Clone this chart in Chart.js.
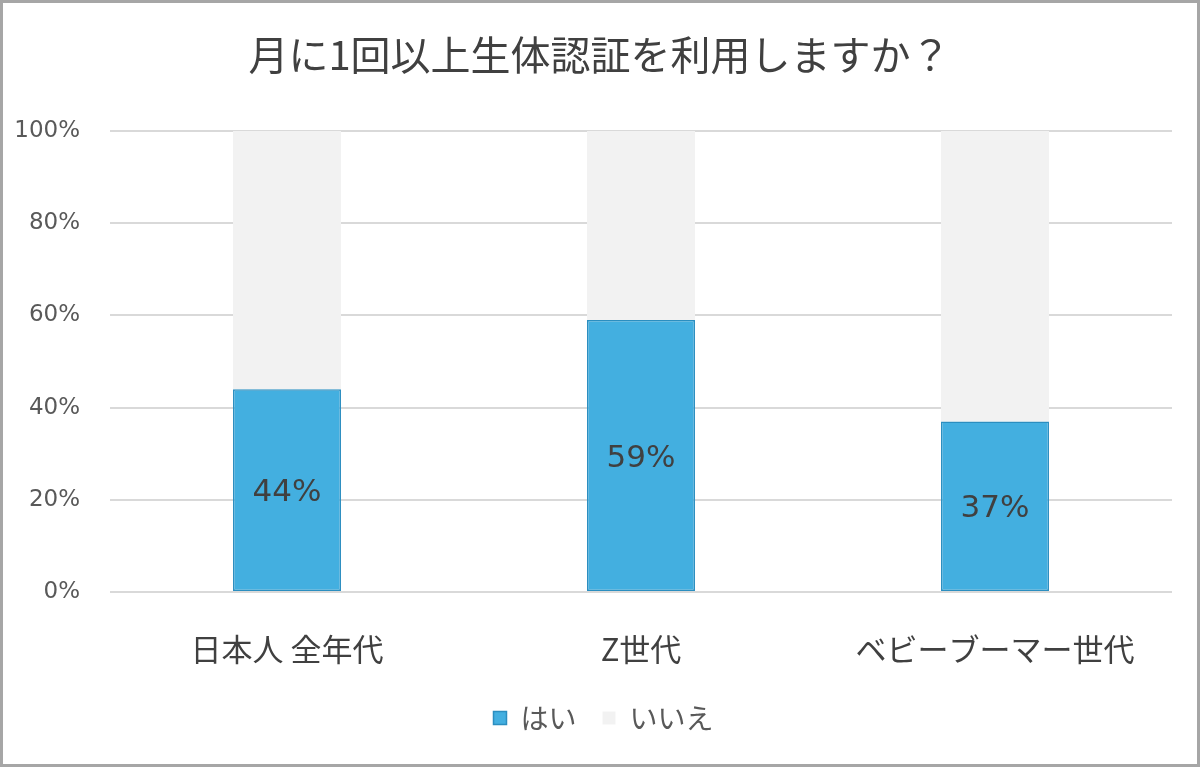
<!DOCTYPE html>
<html lang="ja">
<head>
    <meta charset="UTF-8">
    <title>月に1回以上生体認証を利用しますか？</title>
    <script src="https://cdn.jsdelivr.net/npm/chart.js"></script>
    <style>
        html, body {
            margin: 0;
            padding: 0;
            background: #ffffff;
        }
        .frame {
            width: 1200px;
            height: 767px;
            box-sizing: border-box;
            border: 3px solid #a6a6a6;
            background: #ffffff;
        }
    </style>
</head>
<body>
<div class="frame">
    <canvas id="graph" width="1194" height="761"></canvas>
</div>

<script>
    // chart data
    const categories = ["日本人 全年代", "Z世代", "ベビーブーマー世代"];
    const yesValues = [44, 59, 37];
    const noValues = [56, 41, 63];
    const seriesNames = ["はい", "いいえ"];
    const yTicks = [0, 20, 40, 60, 80, 100];

    const jpFont = '"Noto Sans CJK JP", "Noto Sans", sans-serif';
    const numFont = '"DejaVu Sans", Verdana, sans-serif';

    // draws the percentage inside the "はい" bars
    const valueLabels = {
        id: "valueLabels",
        afterDatasetsDraw(chart) {
            const ctx = chart.ctx;
            const meta = chart.getDatasetMeta(0);
            ctx.save();
            ctx.font = "31px " + numFont;
            ctx.fillStyle = "#404040";
            ctx.textAlign = "center";
            ctx.textBaseline = "middle";
            meta.data.forEach(function (bar, i) {
                const mid = (bar.y + bar.base) / 2 + 3;
                ctx.fillText(yesValues[i] + "%", bar.x, mid);
            });
            ctx.restore();
        }
    };

    // nudge title and legend a little to the right, like the original
    const nudgeBoxes = {
        id: "nudgeBoxes",
        afterLayout(chart) {
            if (chart.titleBlock) {
                chart.titleBlock.left += 8;
                chart.titleBlock.right += 8;
            }
            if (chart.legend) {
                chart.legend.left += 12;
                chart.legend.right += 12;
            }
        }
    };

    const ctx = document.getElementById("graph").getContext("2d");
    new Chart(ctx, {
        type: "bar",
        data: {
            labels: categories,
            datasets: [{
                label: seriesNames[0],
                data: yesValues,
                backgroundColor: "#43afe0",
                borderColor: "#2b8ec0",
                borderWidth: 1.5,
                borderSkipped: false,
                categoryPercentage: 1,
                barPercentage: 0.305
            }, {
                label: seriesNames[1],
                data: noValues,
                backgroundColor: "#f2f2f2",
                borderWidth: 0,
                categoryPercentage: 1,
                barPercentage: 0.305
            }]
        },
        options: {
            responsive: false,
            animation: false,
            layout: {
                padding: { left: 8, right: 25, top: 0, bottom: 22 }
            },
            plugins: {
                title: {
                    display: true,
                    text: "月に1回以上生体認証を利用しますか？",
                    color: "#404040",
                    font: { family: jpFont, size: 40, weight: "normal", lineHeight: 1.2 },
                    padding: { top: 28, bottom: 52 }
                },
                legend: {
                    position: "bottom",
                    labels: {
                        color: "#595959",
                        font: { family: jpFont, size: 28 },
                        boxWidth: 13,
                        boxHeight: 13,
                        padding: 26
                    }
                },
                tooltip: { enabled: false }
            },
            scales: {
                x: {
                    stacked: true,
                    afterFit: function (scale) {
                        scale.height = 86;
                    },
                    grid: { display: false, drawTicks: false },
                    border: { display: false },
                    ticks: {
                        color: "#404040",
                        font: { family: jpFont, size: 31 },
                        padding: 39,
                        maxRotation: 0
                    }
                },
                y: {
                    stacked: true,
                    min: 0,
                    max: 100,
                    afterBuildTicks: function (scale) {
                        scale.ticks = yTicks.map(v => ({ value: v }));
                    },
                    afterFit: function (scale) {
                        scale.width = 99;
                    },
                    grid: { color: "#d9d9d9", lineWidth: 2, drawTicks: false },
                    border: { display: false },
                    ticks: {
                        color: "#595959",
                        font: { family: numFont, size: 23 },
                        padding: 30,
                        callback: v => v + "%"
                    }
                }
            }
        },
        plugins: [valueLabels, nudgeBoxes]
    });
</script>
</body>
</html>
